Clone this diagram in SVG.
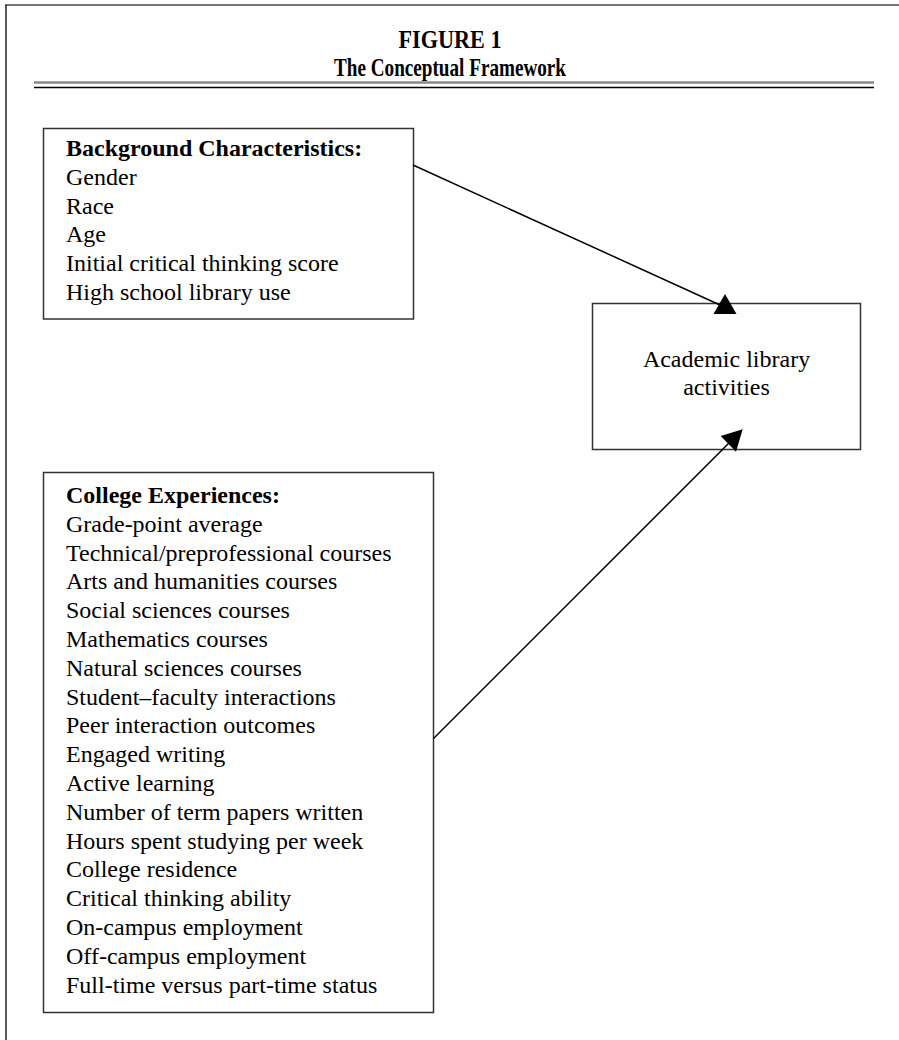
<svg xmlns="http://www.w3.org/2000/svg" width="899" height="1040" viewBox="0 0 899 1040">
<style>
text{font-family:"Liberation Serif","Times New Roman",serif;fill:#000}
.t{font-size:25px;font-weight:bold}
.b{font-size:24px}
.h{font-size:24px;font-weight:bold}
.box{fill:#fff;stroke:#333;stroke-width:1.5}
.con{stroke:#000;stroke-width:1.5;fill:none}
</style>
<rect width="899" height="1040" fill="#fff"/>
<g id="frame">
<line x1="5" y1="5" x2="899" y2="5" stroke="#444" stroke-width="1.5"/>
<line x1="6" y1="5" x2="6" y2="1040" stroke="#222" stroke-width="1.5"/>
<line x1="34" y1="82.5" x2="874" y2="82.5" stroke="#888" stroke-width="2.5"/>
<line x1="34" y1="87.5" x2="874" y2="87.5" stroke="#000" stroke-width="1.5"/>
</g>
<g id="title">
<text class="t" x="450" y="48" text-anchor="middle" textLength="103" lengthAdjust="spacingAndGlyphs">FIGURE 1</text>
<text class="t" x="450" y="76" text-anchor="middle" textLength="232" lengthAdjust="spacingAndGlyphs">The Conceptual Framework</text>
</g>
<g id="background">
<rect class="box" x="43.5" y="128.5" width="370" height="190.5"/>
<text class="h" x="66" y="156">Background Characteristics:</text>
<text class="b" x="66" y="184.8">Gender</text>
<text class="b" x="66" y="213.6">Race</text>
<text class="b" x="66" y="242.4">Age</text>
<text class="b" x="66" y="271.2">Initial critical thinking score</text>
<text class="b" x="66" y="300">High school library use</text>
</g>
<g id="academic">
<rect class="box" x="592.5" y="303.5" width="268" height="146" stroke="#555"/>
<text class="b" x="726.5" y="367" text-anchor="middle">Academic library</text>
<text class="b" x="726.5" y="395" text-anchor="middle">activities</text>
</g>
<g id="college">
<rect class="box" x="43.5" y="472.5" width="390" height="540"/>
<text class="h" x="66" y="503">College Experiences:</text>
<text class="b" x="66" y="531.8">Grade-point average</text>
<text class="b" x="66" y="560.6">Technical/preprofessional courses</text>
<text class="b" x="66" y="589.4">Arts and humanities courses</text>
<text class="b" x="66" y="618.2">Social sciences courses</text>
<text class="b" x="66" y="647">Mathematics courses</text>
<text class="b" x="66" y="675.8">Natural sciences courses</text>
<text class="b" x="66" y="704.6">Student–faculty interactions</text>
<text class="b" x="66" y="733.4">Peer interaction outcomes</text>
<text class="b" x="66" y="762.2">Engaged writing</text>
<text class="b" x="66" y="791">Active learning</text>
<text class="b" x="66" y="819.8">Number of term papers written</text>
<text class="b" x="66" y="848.6">Hours spent studying per week</text>
<text class="b" x="66" y="877.4">College residence</text>
<text class="b" x="66" y="906.2">Critical thinking ability</text>
<text class="b" x="66" y="935">On-campus employment</text>
<text class="b" x="66" y="963.8">Off-campus employment</text>
<text class="b" x="66" y="992.6">Full-time versus part-time status</text>
</g>
<g id="connectors">
<line class="con" x1="413" y1="165" x2="720" y2="305"/>
<polygon points="725,294 736.5,314 713.5,314" fill="#000"/>
<line class="con" x1="433.5" y1="738.5" x2="730" y2="442"/>
<polygon points="742.7,429.3 720.7,436 736,451.7" fill="#000"/>
</g>
</svg>
